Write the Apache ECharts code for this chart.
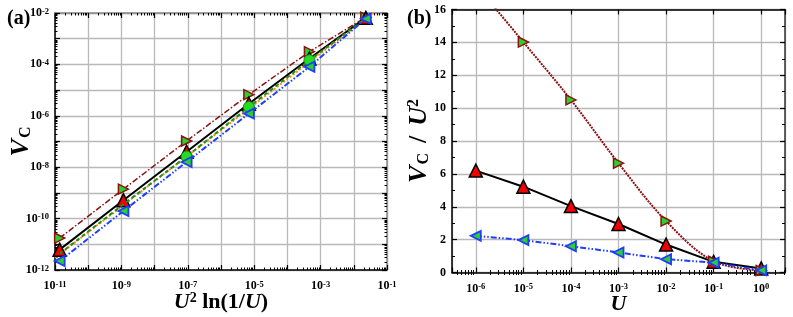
<!DOCTYPE html>
<html><head><meta charset="utf-8">
<script src="https://cdn.jsdelivr.net/npm/echarts@6/dist/echarts.min.js"></script>
<style>html,body{margin:0;padding:0;background:#fff}#c{width:793px;height:317px}</style>
</head><body><div id="c"></div>
<script>
// ---------- data ----------
const U = [1e-6, 1e-5, 1e-4, 1e-3, 1e-2, 1e-1, 1];
const ratioBlack = [6.2, 5.22, 4.04, 2.95, 1.7, 0.65, 0.25];
const ratioBrown = [17.5, 14.02, 10.5, 6.65, 3.13, 0.68, 0.12];
const ratioBlue  = [2.23, 1.97, 1.6, 1.22, 0.81, 0.6, 0.13];

const xA     = [1.38e-11, 1.15e-9, 9.21e-8, 6.91e-6, 4.61e-4, 2.30e-2];
const vBlack = [6.2e-12, 5.2e-10, 4.0e-8, 2.95e-6, 1.7e-4, 6.5e-3];
const vBrown = [1.75e-11, 1.4e-9, 1.05e-7, 6.65e-6, 3.13e-4, 6.8e-3];
const vBlue  = [2.23e-12, 1.97e-10, 1.6e-8, 1.22e-6, 8.1e-5, 6.0e-3];
const vGreen = [4.3e-12, 3.6e-10, 2.6e-8, 2.2e-6, 1.45e-4, 6.3e-3];
const greenMarked = [false, false, true, true, true, false];
const xOrange = [1e-11, 1e-1];
const vOrange = [3e-12, 2.6e-2];

// ---------- helpers ----------
const FF = '"Liberation Serif","Times New Roman",serif';
const pair = (xs, ys) => xs.map((x, i) => [x, ys[i]]);
const expOf = v => Math.round(Math.log10(v));
const isDecade = v => Math.abs(Math.log10(v) - expOf(v)) < 1e-5;
function minorLog(lo, hi) {
  const out = [];
  for (let d = Math.floor(Math.log10(lo)) - 1; d <= Math.ceil(Math.log10(hi)); d++)
    for (let k = 2; k <= 9; k++) { const v = k * Math.pow(10, d); if (v > lo * 1.0001 && v < hi * 0.9999) out.push(v); }
  return out;
}
const richLbl = {
  b: {fontFamily: FF, fontWeight: 'bold', fontSize: 12, color: '#000'},
  s: {fontFamily: FF, fontWeight: 'bold', fontSize: 8.5, color: '#000', verticalAlign: 'top'}
};
const richName = {
  i: {fontFamily: FF, fontWeight: 'bold', fontStyle: 'italic', fontSize: 22, color: '#000'},
  b: {fontFamily: FF, fontWeight: 'bold', fontSize: 22, color: '#000'},
  sup: {fontFamily: FF, fontWeight: 'bold', fontSize: 14, color: '#000', verticalAlign: 'top'},
  I: {fontFamily: FF, fontWeight: 'bold', fontStyle: 'italic', fontSize: 26, color: '#000'},
  B: {fontFamily: FF, fontWeight: 'bold', fontSize: 26, color: '#000', padding: [0, 10, 0, 10]},
  SUP: {fontFamily: FF, fontWeight: 'bold', fontSize: 16, color: '#000', verticalAlign: 'top'},
  SUB: {fontFamily: FF, fontWeight: 'bold', fontSize: 16, color: '#000', verticalAlign: 'bottom', padding: [8, 0, 0, 1]}
};
const GRID = {color: '#b9b9b9', width: 1.3};

function logAxis(o) {
  const base = {
    type: 'log', logBase: 10, gridIndex: o.grid, position: o.pos, min: o.min, max: o.max,
    splitNumber: o.split,
    axisLine: {show: true, onZero: false, lineStyle: {color: o.lineColor, width: 1.5}},
  };
  if (o.major) {
    return Object.assign(base, {
      axisTick: {show: true, inside: true, length: 5, lineStyle: {color: '#000', width: 1.2}},
      axisLabel: o.labelFn ? {show: true, margin: o.margin || 6, formatter: o.labelFn, rich: richLbl, hideOverlap: false} : {show: false},
      splitLine: o.split_ ? {show: true, lineStyle: GRID} : {show: false},
      name: o.name || '', nameLocation: 'middle', nameGap: o.nameGap || 0, nameRotate: o.nameRotate,
      nameMoveOverlap: false,
      nameTextStyle: {rich: richName}
    });
  }
  return Object.assign(base, {
    axisLine: {show: false},
    axisTick: {show: true, inside: true, length: 2.5, lineStyle: {color: '#000', width: 1}, customValues: minorLog(o.min, o.max)},
    axisLabel: {show: false}, splitLine: {show: false}
  });
}

const fmtAx = v => { if (!isDecade(v)) return ''; const e = expOf(v); return ((e + 11) % 2 === 0) ? '{b|10}{s|' + e + '}' : ''; };
const fmtAy = v => { if (!isDecade(v)) return ''; const e = expOf(v); return (e % 2 === 0) ? '{b|10}{s|' + e + '}' : ''; };
const fmtBx = v => isDecade(v) ? '{b|10}{s|' + expOf(v) + '}' : '';

// a hair inside the decade so the log scale keeps one tick per decade
const aXmin = 1e-11 * 1.000001, aXmax = 1e-1, aYmin = 1e-12 * 1.000001, aYmax = 1e-2;
const bXmin = Math.pow(10, -6.5), bXmax = Math.pow(10, 0.5);

const xAxis = [
  logAxis({grid: 0, pos: 'bottom', min: aXmin, max: aXmax, split: 10, major: true, split_: true, labelFn: fmtAx, lineColor: '#000',
           name: '{i|U}{sup|2}{b| ln(1/}{i|U}{b|)}', nameGap: 21, margin: 10}),
  logAxis({grid: 0, pos: 'bottom', min: aXmin, max: aXmax, split: 10, major: false}),
  logAxis({grid: 0, pos: 'top', min: aXmin, max: aXmax, split: 10, major: true, lineColor: '#8a8a8a'}),
  logAxis({grid: 0, pos: 'top', min: aXmin, max: aXmax, split: 10, major: false}),
  logAxis({grid: 1, pos: 'bottom', min: bXmin, max: bXmax, split: 7, major: true, split_: true, labelFn: fmtBx, lineColor: '#000',
           name: '{i|U}', nameGap: 21, margin: 10}),
  logAxis({grid: 1, pos: 'bottom', min: bXmin, max: bXmax, split: 7, major: false}),
  logAxis({grid: 1, pos: 'top', min: bXmin, max: bXmax, split: 7, major: true, lineColor: '#000'}),
  logAxis({grid: 1, pos: 'top', min: bXmin, max: bXmax, split: 7, major: false}),
];
const yAxis = [
  logAxis({grid: 0, pos: 'left', min: aYmin, max: aYmax, split: 10, major: true, split_: true, labelFn: fmtAy, lineColor: '#000',
           name: '{I|V}{SUB|C}', nameGap: 21, nameRotate: 90}),
  logAxis({grid: 0, pos: 'left', min: aYmin, max: aYmax, split: 10, major: false}),
  logAxis({grid: 0, pos: 'right', min: aYmin, max: aYmax, split: 10, major: true, lineColor: '#8a8a8a'}),
  logAxis({grid: 0, pos: 'right', min: aYmin, max: aYmax, split: 10, major: false}),
  {type: 'value', gridIndex: 1, position: 'left', min: 0, max: 16, interval: 2,
   axisLine: {show: true, onZero: false, lineStyle: {color: '#000', width: 1.5}},
   axisTick: {show: true, inside: true, length: 5, lineStyle: {color: '#000', width: 1.2}},
   minorTick: {show: true, splitNumber: 2, length: 3, lineStyle: {color: '#000', width: 1}},
   axisLabel: {margin: 6, fontFamily: FF, fontWeight: 'bold', fontSize: 12, color: '#000'},
   splitLine: {show: true, lineStyle: GRID},
   name: '{I|V}{SUB|C}{B|/}{I|U}{SUP|2}', nameLocation: 'middle', nameGap: 20, nameRotate: 90,
   nameMoveOverlap: false,
   nameTextStyle: {rich: richName}},
  {type: 'value', gridIndex: 1, position: 'right', min: 0, max: 16, interval: 2,
   axisLine: {show: true, onZero: false, lineStyle: {color: '#333', width: 1.5}},
   axisTick: {show: true, inside: true, length: 5, lineStyle: {color: '#000', width: 1.2}},
   minorTick: {show: true, splitNumber: 2, length: 3, lineStyle: {color: '#000', width: 1}},
   axisLabel: {show: false}, splitLine: {show: false}},
];

const BROWN = '#8b1010', BLUE = '#1f3dff', GREENF = '#2bd12b';
const mkBlack = {symbol: 'triangle', symbolSize: 13, itemStyle: {color: '#f00000', borderColor: '#000', borderWidth: 1.5}};
const mkBrown = {symbol: 'triangle', symbolSize: 10, symbolRotate: -90, itemStyle: {color: GREENF, borderColor: BROWN, borderWidth: 1.5}};
const mkBlue  = {symbol: 'triangle', symbolSize: 10, symbolRotate: 90, itemStyle: {color: GREENF, borderColor: BLUE, borderWidth: 1.8}};

const series = [
  // panel (a)
  {type: 'line', xAxisIndex: 0, yAxisIndex: 0, data: pair(xOrange, vOrange), symbol: 'none',
   lineStyle: {color: '#ff8c00', width: 2, type: [2, 2]}, z: 2},
  Object.assign({type: 'line', xAxisIndex: 0, yAxisIndex: 0, data: pair(xA, vBrown),
   lineStyle: {color: BROWN, width: 1.5, type: [6, 2, 1.5, 2]}, z: 3}, mkBrown),
  {type: 'line', xAxisIndex: 0, yAxisIndex: 0,
   data: xA.map((x, i) => ({value: [x, vGreen[i]], symbol: greenMarked[i] ? 'circle' : 'none'})),
   symbol: 'circle', symbolSize: 11, showAllSymbol: true,
   itemStyle: {color: '#22dd22', borderColor: '#168a16', borderWidth: 1},
   lineStyle: {color: '#1f8f1f', width: 2, type: [4, 3]}, z: 5},
  Object.assign({type: 'line', xAxisIndex: 0, yAxisIndex: 0, data: pair(xA, vBlack),
   lineStyle: {color: '#000', width: 2}, z: 4}, mkBlack),
  Object.assign({type: 'line', xAxisIndex: 0, yAxisIndex: 0, data: pair(xA, vBlue),
   lineStyle: {color: BLUE, width: 2, type: [6, 2, 1.5, 2, 1.5, 2]}, z: 6}, mkBlue),
  // panel (b)
  Object.assign({type: 'line', xAxisIndex: 4, yAxisIndex: 4, data: pair(U, ratioBlack),
   lineStyle: {color: '#000', width: 2}, z: 4}, mkBlack),
  Object.assign({type: 'line', xAxisIndex: 4, yAxisIndex: 4, data: pair(U, ratioBrown), smooth: 0.35,
   lineStyle: {color: BROWN, width: 2, type: [2, 1]}, z: 5, clip: true}, mkBrown),
  Object.assign({type: 'line', xAxisIndex: 4, yAxisIndex: 4, data: pair(U, ratioBlue),
   lineStyle: {color: BLUE, width: 2, type: [6, 2, 1.5, 2, 1.5, 2]}, z: 6}, mkBlue),
];

const chart = echarts.init(document.getElementById('c'), null, {renderer: 'canvas'});
chart.setOption({
  animation: false,
  backgroundColor: '#fff',
  title: [
    {text: '(a)', left: 2, top: 4, textStyle: {fontFamily: FF, fontWeight: 'bold', fontSize: 20, color: '#000'}},
    {text: '(b)', left: 402, top: 4, textStyle: {fontFamily: FF, fontWeight: 'bold', fontSize: 20, color: '#000'}}
  ],
  grid: [
    {left: 55, top: 13, width: 332, height: 257, containLabel: false, outerBoundsMode: 'none'},
    {left: 452, top: 9.5, width: 333, height: 263, containLabel: false, outerBoundsMode: 'none'}
  ],
  xAxis: xAxis, yAxis: yAxis, series: series
});
</script></body></html>
